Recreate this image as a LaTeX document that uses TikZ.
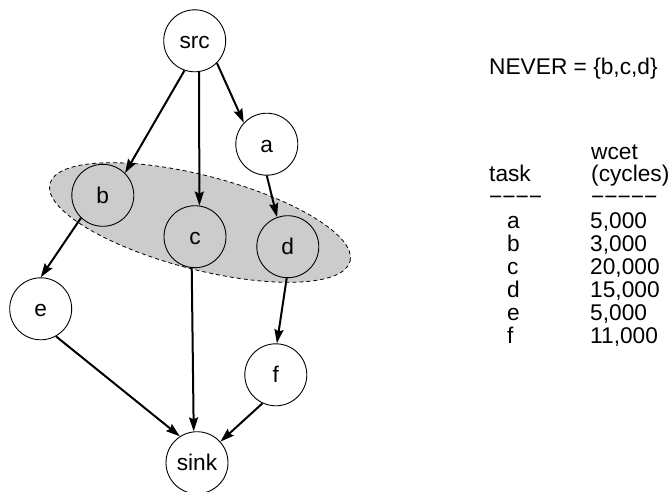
\documentclass[tikz,border=0pt]{standalone}
\usepackage{fontspec}
\setmainfont{Liberation Sans}
\usetikzlibrary{arrows.meta}
\begin{document}
\begin{tikzpicture}[x=1pt,y=-1pt,
  every node/.style={font=\fontsize{22.7}{22.8}\selectfont},
  task/.style={circle,draw,line width=0.9pt,minimum size=62pt,inner sep=0pt,text height=16pt,text depth=0pt},
  edge/.style={line width=2pt,-{Stealth[length=14pt,width=9pt,inset=2pt]}},
  txt/.style={anchor=base west,inner sep=0pt}]
\useasboundingbox (0,0) rectangle (670,491);
% NEVER group
\fill[black!20] [rotate around={-14.5:(200,222.5)}] (200,222.5) ellipse [x radius=155pt, y radius=47pt];
\draw[line width=0.8pt,dash pattern=on 4pt off 3pt] [rotate around={-14.5:(200,222.5)}] (200,222.5) ellipse [x radius=155pt, y radius=47pt];
% nodes
\node[task] (src) at (194.7,40.8) {src};
\node[task] (a) at (266.8,144.2) {a};
\node[task] (b) at (102.8,195.3) {b};
\node[task] (c) at (195,236.7) {c};
\node[task] (d) at (287.8,246.7) {d};
\node[task] (e) at (40.7,308.8) {e};
\node[task] (f) at (275.8,374.8) {f};
\node[task] (sink) at (197,462.7) {sink};
% edges
\draw[edge] (src.-109) -- (b.45);
\draw[edge] (src.-82) -- (c.82);
\draw[edge] (src.-45) -- (a.137);
\draw[edge] (a.-90) -- (d.110);
\draw[edge] (b.-134) -- (e.90);
\draw[edge] (c.-96) -- (sink.96);
\draw[edge] (d.-92) -- (f.88);
\draw[edge] (e.-61) -- (sink.123);
\draw[edge] (f.-115) -- (sink.42);
% text
\node[txt] (never) at (489,74) {NEVER = \{b,c,d\}};
\node[txt] (wcet) at (591,159.3) {wcet};
\node[txt] (taskh) at (489,181.7) {task};
\node[txt] (cyc) at (591,181.7) {(cycles)};
\node[txt] (dl) at (489,204.5) {−−−−};
\node[txt] (dr) at (591,204.5) {−−−−−};
\node[txt] (ra) at (507,228) {a};
\node[txt] (rb) at (507,251) {b};
\node[txt] (rc) at (507,274) {c};
\node[txt] (rd) at (507,297) {d};
\node[txt] (re) at (507,320) {e};
\node[txt] (rf) at (507,343) {f};
\node[txt] (va) at (590,228) {5,000};
\node[txt] (vb) at (590,251) {3,000};
\node[txt] (vc) at (590,274) {20,000};
\node[txt] (vd) at (590,297) {15,000};
\node[txt] (ve) at (590,320) {5,000};
\node[txt] (vf) at (590,343) {11,000};
\end{tikzpicture}
\end{document}
